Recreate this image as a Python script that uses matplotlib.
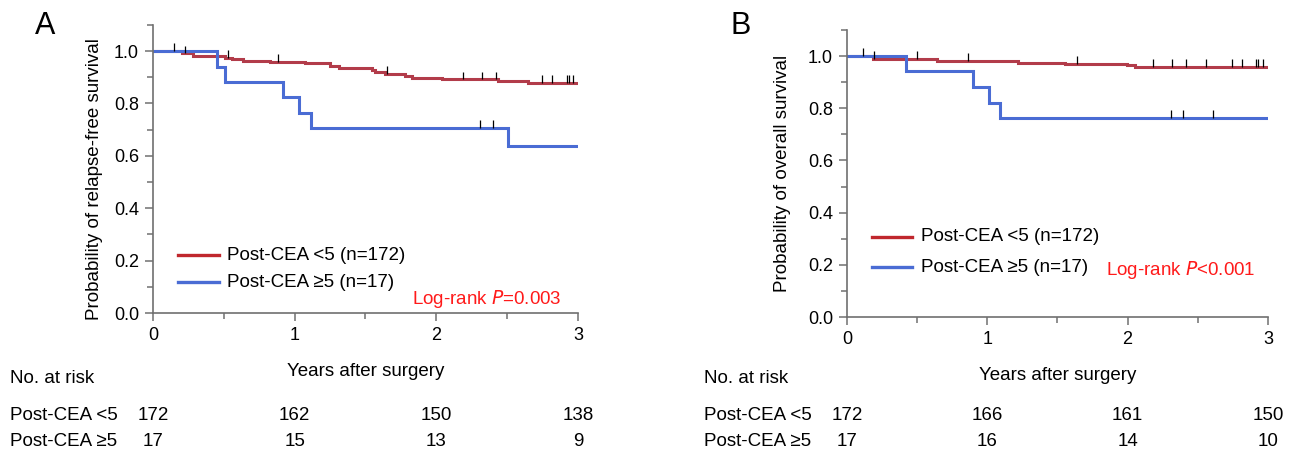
import numpy as np
import matplotlib.pyplot as plt
from matplotlib.ticker import MultipleLocator

plt.rcParams['font.family'] = ['Liberation Sans', 'DejaVu Sans']

# ---- panel A : relapse-free survival ----
a_low_t = [0, 0.202, 0.285, 0.508, 0.555, 0.638, 0.826, 1.073, 1.249, 1.315, 1.543,
           1.567, 1.638, 1.779, 1.826, 2.038, 2.437, 2.649, 3.0]
a_low_s = [1.0, 0.991, 0.983, 0.975, 0.968, 0.963, 0.958, 0.953, 0.943, 0.935, 0.927,
           0.921, 0.913, 0.904, 0.898, 0.892, 0.887, 0.879, 0.879]
a_low_cens = [0.151, 0.226, 0.527, 0.885, 1.649, 2.19, 2.32, 2.42, 2.743, 2.819, 2.92, 2.935, 2.967]
a_high_t = [0, 0.45, 0.508, 0.92, 1.03, 1.115, 2.508, 3.0]
a_high_s = [1.0, 0.941, 0.882, 0.824, 0.765, 0.706, 0.636, 0.636]
a_high_cens = [2.31, 2.40]
a_risk_low = [172, 162, 150, 138]
a_risk_high = [17, 15, 13, 9]

# ---- panel B : overall survival ----
b_low_t = [0, 0.183, 0.639, 1.221, 1.553, 1.993, 2.052, 3.0]
b_low_s = [1.0, 0.988, 0.982, 0.975, 0.969, 0.964, 0.959, 0.959]
b_low_cens = [0.116, 0.195, 0.501, 0.86, 1.637, 2.183, 2.314, 2.416, 2.558, 2.741, 2.817,
              2.915, 2.93, 2.967]
b_high_t = [0, 0.42, 0.896, 1.01, 1.093, 3.0]
b_high_s = [1.0, 0.941, 0.880, 0.822, 0.763, 0.763]
b_high_cens = [2.306, 2.392, 2.61]
b_risk_low = [172, 166, 161, 150]
b_risk_high = [17, 16, 14, 10]

risk_years = [0, 1, 2, 3]
red = '#b23c4a'
blue = '#4a6cd4'
spine_col = '#707070'
fs = 13.5

fig = plt.figure(figsize=(12.95, 4.53), dpi=100)


def km(ax, t, s, cens, col):
    ax.step(t, s, where='post', color=col, lw=2.2, solid_joinstyle='miter')
    idx = np.searchsorted(t, cens, side='right') - 1
    cs = np.array(s)[idx]
    ax.vlines(cens, cs, cs + 0.03, color='black', lw=0.9, zorder=3)


def panel(rect, letter, letter_x, ylabel, ylab_xy, lo, hi, risk_lo, risk_hi, ptext, leg_y, leg_dy,
          ptext_x, ptext_y):
    ax = fig.add_axes(rect)
    km(ax, lo[0], lo[1], lo[2], red)
    km(ax, hi[0], hi[1], hi[2], blue)
    ax.set_xlim(0, 3)
    ax.set_ylim(0, 1.1)
    ax.xaxis.set_major_locator(MultipleLocator(1))
    ax.xaxis.set_minor_locator(MultipleLocator(0.5))
    ax.yaxis.set_major_locator(MultipleLocator(0.2))
    ax.yaxis.set_minor_locator(MultipleLocator(0.1))
    ax.set_yticks([0, 0.2, 0.4, 0.6, 0.8, 1.0])
    ax.set_yticklabels(['0.0', '0.2', '0.4', '0.6', '0.8', '1.0'])
    for sp in ['top', 'right']:
        ax.spines[sp].set_visible(False)
    for sp in ['left', 'bottom']:
        ax.spines[sp].set_color(spine_col)
        ax.spines[sp].set_linewidth(1.2)
        ax.spines[sp].set_clip_on(False)
    ax.tick_params(which='major', length=6, width=1.1, color=spine_col, labelsize=13, pad=4)
    ax.tick_params(which='minor', length=4, width=1.1, color=spine_col)
    ax.set_ylabel(ylabel, fontsize=fs, labelpad=7)
    ax.yaxis.set_label_coords(*ylab_xy)
    ax.set_xlabel('Years after surgery', fontsize=fs, labelpad=14)

    # legend drawn by hand in axes fraction
    ax.plot([0.06, 0.155], [leg_y, leg_y], transform=ax.transAxes, color='#c0272d', lw=2.4, clip_on=False)
    ax.plot([0.06, 0.155], [leg_y - leg_dy, leg_y - leg_dy], transform=ax.transAxes, color=blue, lw=2.4, clip_on=False)
    ax.text(0.175, leg_y, 'Post-CEA <5 (n=172)', transform=ax.transAxes, fontsize=fs, va='center')
    ax.text(0.175, leg_y - leg_dy, 'Post-CEA \u22655 (n=17)', transform=ax.transAxes, fontsize=fs, va='center')
    ax.text(ptext_x, ptext_y, ptext, transform=ax.transAxes, fontsize=fs, color='#ff1a1a', va='center')

    fig.text(letter_x, 0.975, letter, fontsize=22, va='top')

    # numbers at risk
    x0 = rect[0] - 0.1105
    fig.text(x0, 0.165, 'No. at risk', fontsize=fs, va='center')
    fig.text(x0, 0.083, 'Post-CEA <5', fontsize=fs, va='center')
    fig.text(x0, 0.025, 'Post-CEA \u22655', fontsize=fs, va='center')
    for yr, nl, nh in zip(risk_years, risk_lo, risk_hi):
        xf = rect[0] + rect[2] * yr / 3.0
        fig.text(xf, 0.083, str(nl), fontsize=fs, ha='center', va='center')
        fig.text(xf, 0.025, str(nh), fontsize=fs, ha='center', va='center')
    return ax


panel([0.1181, 0.309, 0.3282, 0.636], 'A', 0.027, 'Probability of relapse-free survival', (-0.118, 0.465),
      (a_low_t, a_low_s, a_low_cens), (a_high_t, a_high_s, a_high_cens),
      a_risk_low, a_risk_high, 'Log-rank $\\it{P}$=0.003', 0.2, 0.093, 0.61, 0.05)
panel([0.654, 0.3002, 0.3251, 0.6336], 'B', 0.564, 'Probability of overall survival', (-0.132, 0.5),
      (b_low_t, b_low_s, b_low_cens), (b_high_t, b_high_s, b_high_cens),
      b_risk_low, b_risk_high, 'Log-rank $\\it{P}$<0.001', 0.28, 0.107, 0.615, 0.163)

fig.savefig('out.png', dpi=100)
